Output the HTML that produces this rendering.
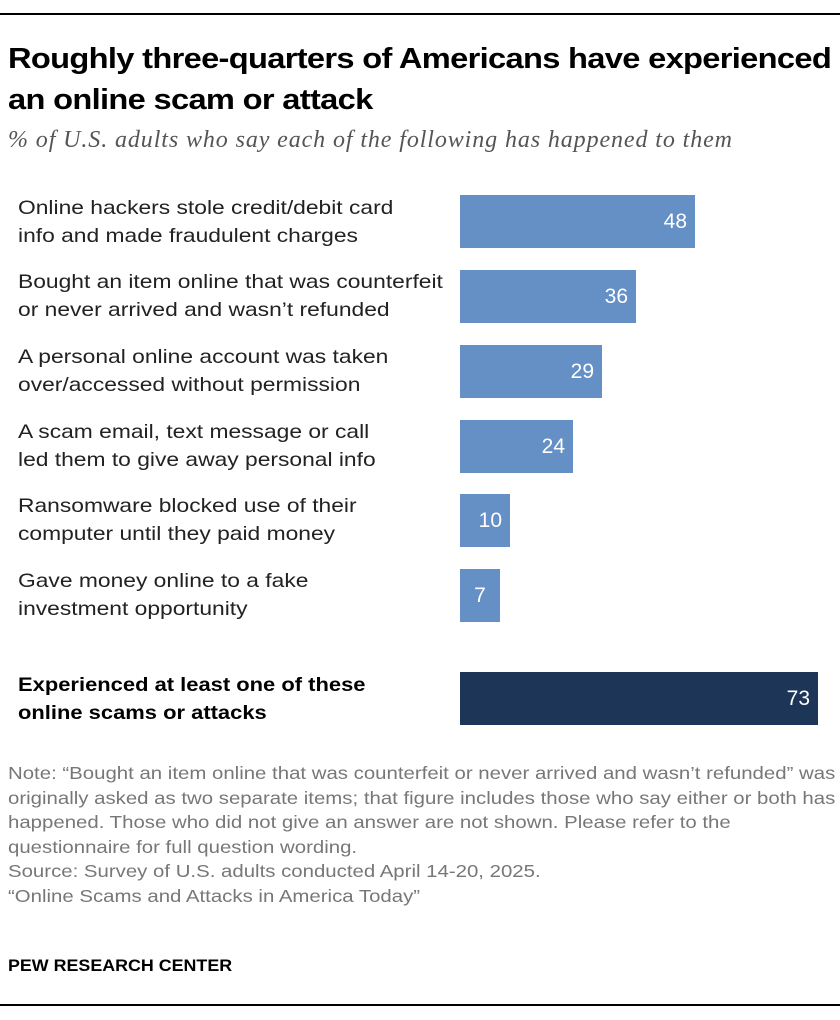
<!DOCTYPE html>
<html><head><meta charset="utf-8"><style>
body{margin:0;width:840px;height:1020px;background:#fff;position:relative;font-family:"Liberation Sans",sans-serif;overflow:hidden}
.a{position:absolute;transform-origin:0 0;white-space:nowrap}
.rule{left:0;width:840px;height:2px;background:#000}
.t{left:8px;top:39px;font-size:29px;font-weight:bold;line-height:41px;color:#000;letter-spacing:-0.6px;transform:scaleX(1.125)}
.s{left:8px;top:127px;font-family:"Liberation Serif",serif;font-style:italic;font-size:24px;color:#555;letter-spacing:0.9px}
.l{left:18px;font-size:19.5px;line-height:28px;color:#222;transform:scaleX(1.17)}
.b{left:460px;height:53px;background:#6490c6;color:#fff;font-size:21px;text-align:right;box-sizing:border-box;padding-right:8px;line-height:53px}
.n{left:8px;font-size:17.5px;color:#777;line-height:24.5px;transform:scaleX(1.165)}
</style></head><body>
<div class="a rule" style="top:13px"></div>
<div class="a t">Roughly three-quarters of Americans have experienced<br>an online scam or attack</div>
<div class="a s">% of U.S. adults who say each of the following has happened to them</div>

<div class="a l" style="top:194px">Online hackers stole credit/debit card<br>info and made fraudulent charges</div>
<div class="a b" style="top:195px;width:235px">48</div>
<div class="a l" style="top:268px">Bought an item online that was counterfeit<br>or never arrived and wasn’t refunded</div>
<div class="a b" style="top:270px;width:176px">36</div>
<div class="a l" style="top:343px">A personal online account was taken<br>over/accessed without permission</div>
<div class="a b" style="top:345px;width:142px">29</div>
<div class="a l" style="top:418px">A scam email, text message or call<br>led them to give away personal info</div>
<div class="a b" style="top:420px;width:113px">24</div>
<div class="a l" style="top:492px">Ransomware blocked use of their<br>computer until they paid money</div>
<div class="a b" style="top:494px;width:50px">10</div>
<div class="a l" style="top:567px">Gave money online to a fake<br>investment opportunity</div>
<div class="a b" style="top:569px;width:40px;text-align:center;padding-right:0">7</div>
<div class="a l" style="top:671px;font-weight:bold;color:#000;transform:scaleX(1.125)">Experienced at least one of these<br>online scams or attacks</div>
<div class="a b" style="top:672px;width:358px;background:#1d3557">73</div>

<div class="a n" style="top:761px">Note: “Bought an item online that was counterfeit or never arrived and wasn’t refunded” was<br>originally asked as two separate items; that figure includes those who say either or both has<br>happened. Those who did not give an answer are not shown. Please refer to the<br>questionnaire for full question wording.<br>Source: Survey of U.S. adults conducted April 14-20, 2025.<br>“Online Scams and Attacks in America Today”</div>
<div class="a" style="left:8px;top:956px;font-size:17px;font-weight:bold;color:#000;transform:scaleX(1.05)">PEW RESEARCH CENTER</div>
<div class="a rule" style="top:1004px"></div>
</body></html>
